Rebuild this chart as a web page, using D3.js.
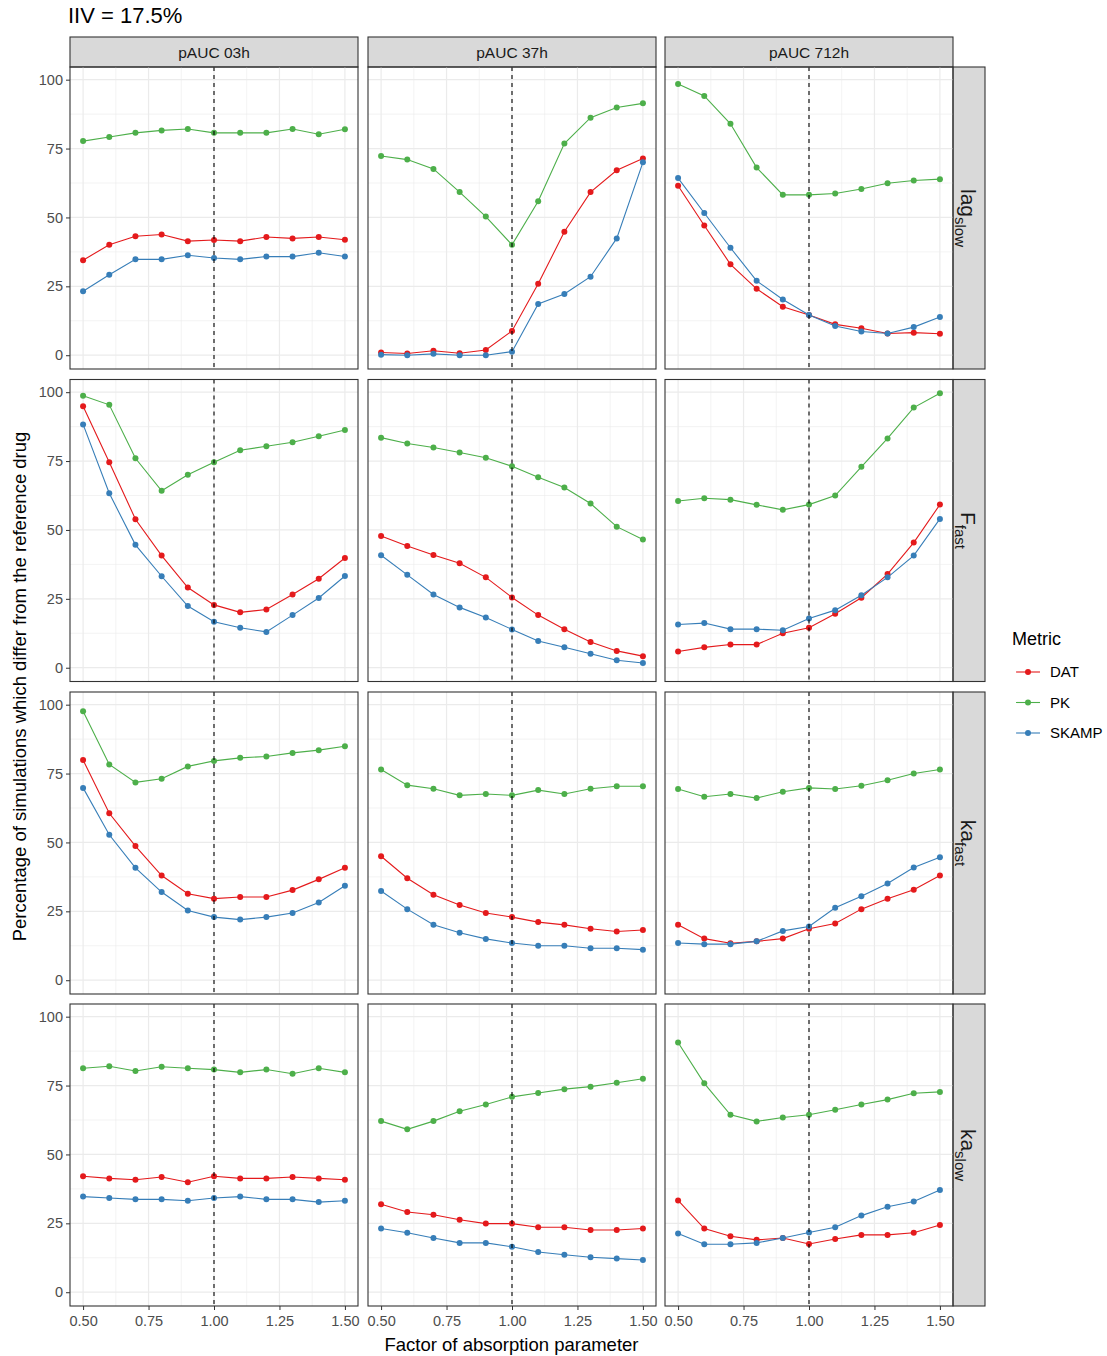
<!DOCTYPE html>
<html>
<head>
<meta charset="utf-8">
<script src="https://cdn.jsdelivr.net/npm/d3@7"></script>
<style>
  body { margin: 0; background: #fff; }
  text { font-family: "Liberation Sans", Arial, sans-serif; }
</style>
</head>
<body>
<svg id="chart" width="1107" height="1356"></svg>
<script>
// x values (factor applied to the absorption parameter)
const factors = [0.5, 0.6, 0.7, 0.8, 0.9, 1.0, 1.1, 1.2, 1.3, 1.4, 1.5];
const windows = ["pAUC 03h", "pAUC 37h", "pAUC 712h"];
const paramMain = ["lag", "F", "ka", "ka"];
const paramSub = ["slow", "fast", "fast", "slow"];
const metrics = ["DAT", "PK", "SKAMP"];
const metricColors = ["#E41A1C", "#4DAF4A", "#377EB8"];
const xTicks = [0.5, 0.75, 1.0, 1.25, 1.5];
const yTicks = [0, 25, 50, 75, 100];

// each array: [pAUC 03h, pAUC 37h, pAUC 712h]
const lagSlowDAT = [
  [34.5, 40.1, 43.2, 43.8, 41.4, 41.8, 41.4, 42.9, 42.4, 42.9, 41.9],
  [1.0, 0.6, 1.6, 0.7, 1.9, 8.8, 25.9, 44.8, 59.2, 67.1, 71.4],
  [61.5, 47.1, 33.0, 24.1, 17.6, 14.6, 11.2, 9.8, 7.9, 8.2, 7.8]
];
const lagSlowPK = [
  [77.7, 79.2, 80.7, 81.6, 82.1, 80.7, 80.7, 80.7, 82.1, 80.2, 82.0],
  [72.3, 71.0, 67.6, 59.2, 50.3, 40.1, 55.9, 76.8, 86.2, 89.9, 91.4],
  [98.4, 94.1, 84.0, 68.1, 58.2, 58.2, 58.7, 60.3, 62.4, 63.4, 63.9]
];
const lagSlowSKAMP = [
  [23.2, 29.2, 34.8, 34.8, 36.3, 35.3, 34.8, 35.8, 35.8, 37.2, 35.8],
  [0.2, 0.0, 0.5, 0.0, 0.0, 1.3, 18.6, 22.2, 28.5, 42.4, 70.0],
  [64.3, 51.6, 39.0, 27.0, 20.2, 14.6, 10.6, 8.6, 7.9, 10.2, 13.9]
];

const fFastDAT = [
  [94.9, 74.6, 53.9, 40.7, 29.1, 22.8, 20.1, 21.1, 26.6, 32.3, 39.8],
  [47.8, 44.2, 40.9, 37.9, 32.8, 25.5, 19.1, 14.0, 9.3, 6.1, 4.2],
  [5.9, 7.4, 8.4, 8.4, 12.5, 14.5, 19.6, 25.4, 34.0, 45.4, 59.2]
];
const fFastPK = [
  [98.7, 95.4, 76.0, 64.2, 70.0, 74.6, 78.9, 80.4, 81.8, 84.0, 86.3],
  [83.5, 81.4, 79.9, 78.1, 76.2, 73.1, 69.1, 65.4, 59.6, 51.2, 46.5],
  [60.5, 61.5, 61.0, 59.1, 57.3, 59.2, 62.5, 72.9, 83.2, 94.4, 99.6]
];
const fFastSKAMP = [
  [88.3, 63.3, 44.6, 33.2, 22.4, 16.7, 14.5, 13.0, 19.1, 25.3, 33.3],
  [40.8, 33.7, 26.6, 21.9, 18.2, 13.9, 9.7, 7.4, 5.1, 2.7, 1.7],
  [15.7, 16.2, 14.0, 14.0, 13.6, 17.9, 20.9, 26.3, 32.8, 40.7, 54.0]
];

const kaFastDAT = [
  [79.9, 60.6, 48.7, 38.0, 31.4, 29.6, 30.2, 30.2, 32.7, 36.6, 40.8],
  [45.0, 37.0, 31.0, 27.3, 24.4, 22.9, 21.1, 20.1, 18.7, 17.7, 18.2],
  [20.1, 15.1, 13.4, 14.1, 15.1, 18.7, 20.6, 25.8, 29.6, 32.8, 38.0]
];
const kaFastPK = [
  [97.6, 78.3, 71.8, 73.1, 77.6, 79.6, 80.7, 81.2, 82.5, 83.5, 84.9],
  [76.5, 70.8, 69.5, 67.1, 67.6, 67.1, 69.0, 67.6, 69.5, 70.4, 70.4],
  [69.4, 66.6, 67.6, 66.1, 68.4, 69.8, 69.4, 70.6, 72.6, 75.0, 76.5]
];
const kaFastSKAMP = [
  [69.8, 52.8, 40.8, 32.0, 25.3, 22.9, 22.0, 22.9, 24.4, 28.2, 34.3],
  [32.4, 25.8, 20.1, 17.2, 15.0, 13.5, 12.5, 12.5, 11.6, 11.6, 11.1],
  [13.5, 13.1, 13.1, 14.1, 17.9, 19.5, 26.3, 30.5, 35.1, 40.9, 44.6]
];

const kaSlowDAT = [
  [42.1, 41.3, 40.8, 41.8, 39.9, 42.1, 41.3, 41.3, 41.8, 41.3, 40.8],
  [31.9, 29.1, 28.1, 26.3, 24.9, 24.9, 23.6, 23.6, 22.6, 22.6, 23.1],
  [33.3, 23.1, 20.3, 19.0, 19.7, 17.5, 19.3, 20.8, 20.8, 21.6, 24.4]
];
const kaSlowPK = [
  [81.3, 82.0, 80.3, 81.8, 81.3, 80.8, 79.8, 80.8, 79.3, 81.3, 79.8],
  [62.1, 59.1, 62.1, 65.7, 68.1, 70.9, 72.3, 73.7, 74.6, 76.0, 77.5],
  [90.6, 75.8, 64.4, 62.0, 63.4, 64.4, 66.2, 68.1, 69.9, 72.2, 72.7]
];
const kaSlowSKAMP = [
  [34.7, 34.2, 33.7, 33.7, 33.2, 34.2, 34.7, 33.7, 33.7, 32.7, 33.2],
  [23.1, 21.6, 19.7, 17.9, 17.9, 16.5, 14.6, 13.6, 12.7, 12.2, 11.7],
  [21.3, 17.4, 17.4, 17.9, 19.7, 21.7, 23.6, 27.8, 31.0, 32.9, 37.1]
];

// rows = parameters, each row has one array per metric
const rowData = [
  [lagSlowDAT, lagSlowPK, lagSlowSKAMP],
  [fFastDAT, fFastPK, fFastSKAMP],
  [kaFastDAT, kaFastPK, kaFastSKAMP],
  [kaSlowDAT, kaSlowPK, kaSlowSKAMP]
];

// layout
const panelW = 288, panelH = 302;
const colLeft = [70, 368, 665];
const rowTop = [67, 379.5, 692, 1004];
const stripH = 30, stripW = 32;

const svg = d3.select("#chart");

const x = d3.scaleLinear().domain([0.45, 1.55]).range([0, panelW]);
const y = d3.scaleLinear().domain([-5, 104.6]).range([panelH, 0]);
const color = d3.scaleOrdinal().domain(metrics).range(metricColors);

const line = d3.line()
  .x(d => x(d.f))
  .y(d => y(d.v));

// title
svg.append("text")
  .attr("x", 68).attr("y", 23)
  .attr("font-size", 22).attr("fill", "#000")
  .text("IIV = 17.5%");

// column strips
windows.forEach((w, c) => {
  const g = svg.append("g").attr("transform", `translate(${colLeft[c]},${rowTop[0] - stripH})`);
  g.append("rect").attr("width", panelW).attr("height", stripH)
    .attr("fill", "#D9D9D9").attr("stroke", "#333").attr("stroke-width", 1.1);
  g.append("text").attr("x", panelW / 2).attr("y", stripH / 2 + 5.5)
    .attr("text-anchor", "middle").attr("font-size", 15.5).attr("fill", "#1A1A1A")
    .text(w);
});

rowTop.forEach((top, r) => {
  // row strip on the right
  const sg = svg.append("g").attr("transform", `translate(${colLeft[2] + panelW},${top})`);
  sg.append("rect").attr("width", stripW).attr("height", panelH)
    .attr("fill", "#D9D9D9").attr("stroke", "#333").attr("stroke-width", 1.1);
  const lbl = sg.append("text")
    .attr("transform", `translate(${stripW / 2 - 8},${panelH / 2}) rotate(90)`)
    .attr("text-anchor", "middle").attr("fill", "#1A1A1A");
  lbl.append("tspan").attr("font-size", 21).text(paramMain[r]);
  lbl.append("tspan").attr("font-size", 15).attr("dy", 6).text(paramSub[r]);

  windows.forEach((w, c) => {
    const g = svg.append("g").attr("transform", `translate(${colLeft[c]},${top})`);

    // grid: minor then major
    const xMinor = [0.625, 0.875, 1.125, 1.375];
    const yMinor = [12.5, 37.5, 62.5, 87.5];
    g.selectAll(".xminor").data(xMinor).enter().append("line")
      .attr("x1", d => x(d)).attr("x2", d => x(d)).attr("y1", 0).attr("y2", panelH)
      .attr("stroke", "#EBEBEB").attr("stroke-width", 0.6);
    g.selectAll(".yminor").data(yMinor).enter().append("line")
      .attr("y1", d => y(d)).attr("y2", d => y(d)).attr("x1", 0).attr("x2", panelW)
      .attr("stroke", "#EBEBEB").attr("stroke-width", 0.6);
    g.selectAll(".xmajor").data(xTicks).enter().append("line")
      .attr("x1", d => x(d)).attr("x2", d => x(d)).attr("y1", 0).attr("y2", panelH)
      .attr("stroke", "#EBEBEB").attr("stroke-width", 1.2);
    g.selectAll(".ymajor").data(yTicks).enter().append("line")
      .attr("y1", d => y(d)).attr("y2", d => y(d)).attr("x1", 0).attr("x2", panelW)
      .attr("stroke", "#EBEBEB").attr("stroke-width", 1.2);

    // series
    metrics.forEach((m, k) => {
      const vals = rowData[r][k][c];
      const pts = factors.map((f, i) => ({ f: f, v: vals[i] }));
      g.append("path").datum(pts)
        .attr("d", line).attr("fill", "none")
        .attr("stroke", color(m)).attr("stroke-width", 1.1);
      g.selectAll(".pt-" + m).data(pts).enter().append("circle")
        .attr("cx", d => x(d.f)).attr("cy", d => y(d.v)).attr("r", 3)
        .attr("fill", color(m));
    });

    // reference line at factor 1
    g.append("line")
      .attr("x1", x(1)).attr("x2", x(1)).attr("y1", 0).attr("y2", panelH)
      .attr("stroke", "#000").attr("stroke-width", 1.1).attr("stroke-dasharray", "4,4");

    // border
    g.append("rect").attr("width", panelW).attr("height", panelH)
      .attr("fill", "none").attr("stroke", "#333").attr("stroke-width", 1.1);

    // axes
    if (c === 0) {
      const ya = g.append("g").call(d3.axisLeft(y).tickValues(yTicks).tickSize(4).tickPadding(3));
      ya.select(".domain").remove();
      ya.selectAll("line").attr("stroke", "#333");
      ya.selectAll("text").attr("font-size", 14.5).attr("fill", "#4D4D4D")
        .attr("font-family", "Liberation Sans, Arial, sans-serif");
    }
    if (r === rowTop.length - 1) {
      const xa = g.append("g").attr("transform", `translate(0,${panelH})`)
        .call(d3.axisBottom(x).tickValues(xTicks).tickFormat(d3.format(".2f")).tickSize(4).tickPadding(6));
      xa.select(".domain").remove();
      xa.selectAll("line").attr("stroke", "#333");
      xa.selectAll("text").attr("font-size", 14.5).attr("fill", "#4D4D4D")
        .attr("font-family", "Liberation Sans, Arial, sans-serif");
    }
  });
});

// axis titles
svg.append("text")
  .attr("transform", `translate(26,${(rowTop[0] + rowTop[3] + panelH) / 2}) rotate(-90)`)
  .attr("text-anchor", "middle").attr("font-size", 18.5).attr("fill", "#000")
  .text("Percentage of simulations which differ from the reference drug");

svg.append("text")
  .attr("x", (colLeft[0] + colLeft[2] + panelW) / 2).attr("y", 1351)
  .attr("text-anchor", "middle").attr("font-size", 18.5).attr("fill", "#000")
  .text("Factor of absorption parameter");

// legend
const legend = svg.append("g").attr("transform", "translate(1012,645)");
legend.append("text").attr("x", 0).attr("y", 0)
  .attr("font-size", 18).attr("fill", "#000").text("Metric");
metrics.forEach((m, k) => {
  const ly = 27 + k * 30.5;
  legend.append("line").attr("x1", 4).attr("x2", 28).attr("y1", ly).attr("y2", ly)
    .attr("stroke", color(m)).attr("stroke-width", 1.1);
  legend.append("circle").attr("cx", 16).attr("cy", ly).attr("r", 3).attr("fill", color(m));
  legend.append("text").attr("x", 38).attr("y", ly + 5)
    .attr("font-size", 15).attr("fill", "#000").text(m);
});
</script>
</body>
</html>
